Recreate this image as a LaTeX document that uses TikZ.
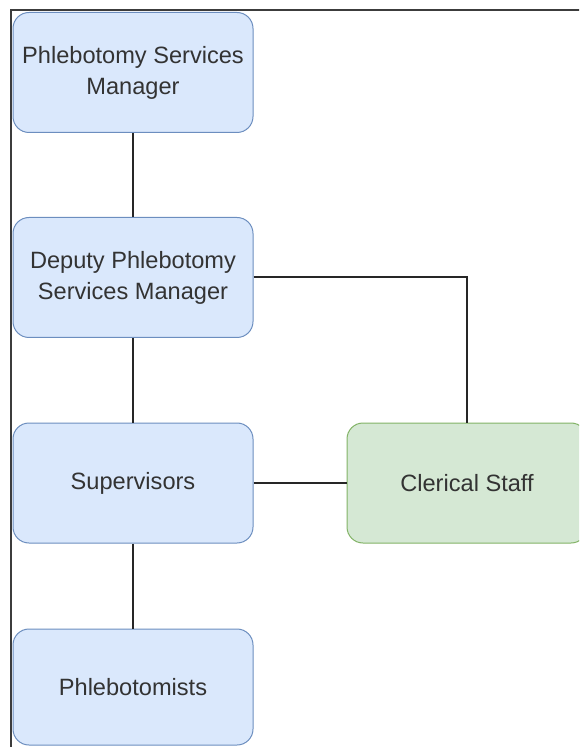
\documentclass[tikz,border=0pt]{standalone}
\usepackage{tikz}
\usepackage{fontspec}
\setmainfont{Liberation Sans}
\usetikzlibrary{shapes}
\definecolor{ps_blue}{RGB}{218, 232, 252}
\definecolor{ps_blueline}{RGB}{108, 142, 191}
\definecolor{ps_green}{RGB}{213, 232, 212}
\definecolor{ps_greenline}{RGB}{130, 179, 102}
\definecolor{ps_text}{RGB}{51, 51, 51}
\definecolor{ps_frame}{RGB}{60, 60, 60}
\tikzstyle{bn}=[rectangle,rounded corners=8pt,fill=ps_blue,draw=ps_blueline,
  line width=0.5pt,inner sep=2pt,minimum width=120pt,minimum height=60pt,
  align=center,text=ps_text,font=\fontsize{11.8}{15.5}\selectfont]
\tikzstyle{gn}=[rectangle,rounded corners=8pt,fill=ps_green,draw=ps_greenline,
  line width=0.5pt,inner sep=2pt,minimum width=120pt,minimum height=60pt,
  align=center,text=ps_text,font=\fontsize{11.8}{15.5}\selectfont]
\tikzstyle{ln}=[draw=black!85,line width=1pt]

\begin{document}
\begin{tikzpicture}[x=0.5pt,y=-0.5pt]
    \useasboundingbox (0,0) rectangle (579,747);
    \clip (0,0) rectangle (579,747);
    \draw [draw=ps_frame,line width=1.2pt] (11,760) -- (11,10) -- (590,10);
    \node [style=bn] (manager) at (133,72.5) {Phlebotomy Services\\Manager};
    \node [style=bn] (deputy) at (133,277.5) {Deputy Phlebotomy\\Services Manager};
    \node [style=bn] (supervisors) at (133,483) {Supervisors};
    \node [style=gn] (clerical) at (467,483) {Clerical Staff};
    \node [style=bn,minimum height=58pt] (phlebotomists) at (133,687) {Phlebotomists};
    \draw [style=ln] (manager) to (deputy);
    \draw [style=ln] (deputy) to (supervisors);
    \draw [style=ln] (supervisors) to (phlebotomists);
    \draw [style=ln] (supervisors) to (clerical);
    \draw [style=ln] (deputy) -| (clerical);
  \end{tikzpicture}
\end{document}
